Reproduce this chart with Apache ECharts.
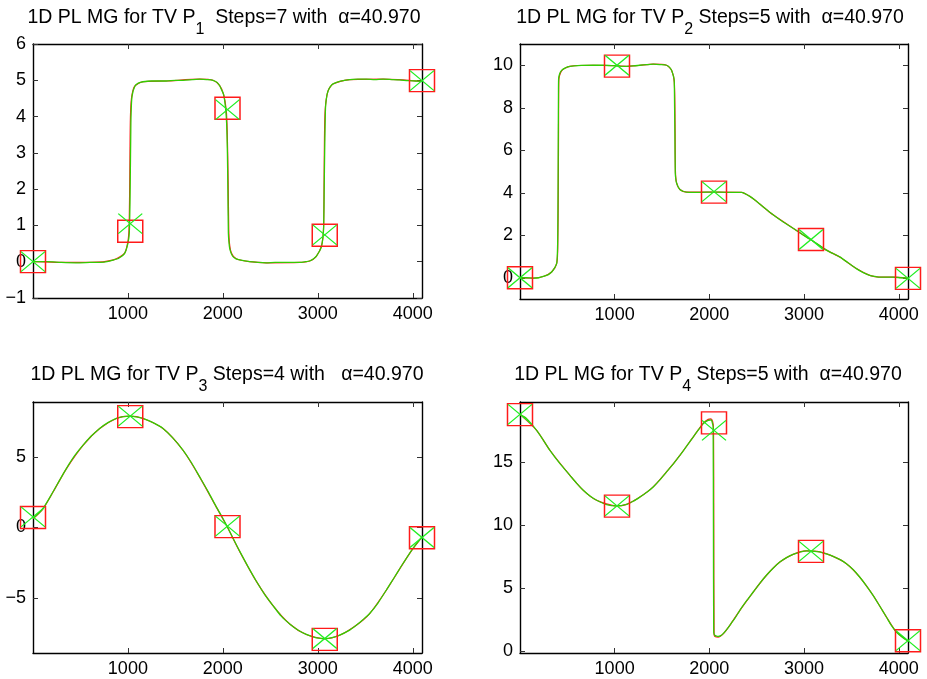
<!DOCTYPE html>
<html>
<head>
<meta charset="utf-8">
<script src="https://cdn.jsdelivr.net/npm/echarts@6/dist/echarts.min.js"></script>
<style>html,body{margin:0;padding:0;background:#fff}#c{width:927px;height:679px}</style>
</head>
<body>
<div id="c"></div>
<script>
// ---------- data ----------
const markerX = [1, 1025, 2049, 3073, 4097];
const xTicks = [1000, 2000, 3000, 4000];

const titles = [
  ['1D PL MG for TV P', '1', '  Steps=7 with  α=40.970'],
  ['1D PL MG for TV P', '2', ' Steps=5 with  α=40.970'],
  ['1D PL MG for TV P', '3', ' Steps=4 with   α=40.970'],
  ['1D PL MG for TV P', '4', ' Steps=5 with  α=40.970']
];

const yRange1 = [-1, 6];     const yTicks1 = [-1, 0, 1, 2, 3, 4, 5, 6];
const yRange2 = [-1, 11];    const yTicks2 = [0, 2, 4, 6, 8, 10];
const yRange3 = [-8.92, 8.92]; const yTicks3 = [-5, 0, 5];
const yRange4 = [-0.16, 19.76]; const yTicks4 = [0, 5, 10, 15];

const p1Squares = [0, 0.84, 4.23, 0.73, 4.99];
const p1Crosses = [0, 1.05, 4.19, 0.74, 4.99];
const p2Squares = [0, 9.96, 4.03, 1.8, -0.03];
const p2Crosses = [0, 10.0, 4.05, 1.8, -0.03];
const p3Squares = [0.71, 7.88, 0.06, -7.95, -0.73];
const p3Crosses = [0.76, 7.91, 0.09, -7.89, -0.71];
const p4Squares = [18.76, 11.49, 18.11, 7.9, 0.81];
const p4Crosses = [18.78, 11.51, 17.51, 7.91, 0.82];

const p1Green = [[1,0],[150,0.0],[300,-0.02],[450,-0.03],[600,-0.02],[750,-0.01],[850,0.05],[900,0.09],[966,0.23],[1001,0.51],[1015,0.8],[1022,1.6],[1026,2.5],[1030,3.4],[1033,4.0],[1043,4.55],[1072,4.83],[1110,4.92],[1159,4.96],[1250,4.98],[1405,4.98],[1500,5.0],[1580,5.0],[1680,5.02],[1756,5.03],[1830,5.02],[1896,5.0],[1940,4.94],[1967,4.85],[1990,4.72],[2009,4.6],[2030,4.2],[2040,3.8],[2048,3.0],[2053,2.0],[2058,0.8],[2064,0.55],[2072,0.37],[2090,0.22],[2107,0.14],[2140,0.08],[2177,0.05],[2282,0],[2370,-0.02],[2458,-0.03],[2550,-0.02],[2633,-0.02],[2720,-0.02],[2809,-0.02],[2870,0.0],[2914,0.02],[2955,0.08],[2984,0.15],[3015,0.28],[3037,0.4],[3055,0.7],[3062,1.0],[3067,2.0],[3072,3.0],[3077,3.8],[3082,4.3],[3095,4.58],[3107,4.7],[3130,4.82],[3160,4.9],[3230,4.97],[3336,5.02],[3420,5.03],[3511,5.03],[3600,5.02],[3687,5.03],[3780,5.02],[3862,5.01],[3950,4.99],[4030,4.98],[4097,4.97]];
const p1Red = [[1,0],[300,-0.02],[600,-0.02],[850,0.05],[966,0.24],[1000,0.55],[1012,0.9],[1018,1.8],[1022,3.0],[1027,4.0],[1038,4.5],[1070,4.83],[1159,4.96],[1405,4.98],[1756,5.03],[1896,5.0],[1967,4.85],[2009,4.6],[2035,4.2],[2046,3.6],[2056,2.2],[2062,0.9],[2070,0.5],[2090,0.24],[2140,0.08],[2282,0],[2458,-0.03],[2809,-0.02],[2914,0.02],[2984,0.15],[3040,0.45],[3060,0.9],[3066,2.2],[3070,3.4],[3078,4.2],[3107,4.7],[3160,4.9],[3336,5.02],[3687,5.03],[4097,4.97]];

const p2Green = [[1,0],[70,0.0],[142,-0.02],[200,0.0],[247,0.06],[300,0.15],[335,0.27],[365,0.45],[388,0.66],[396,1.2],[400,2.1],[403,4.5],[405,6.8],[407,8.6],[409,9.37],[420,9.6],[440,9.76],[480,9.88],[528,9.95],[650,9.99],[774,10],[880,10.0],[985,9.98],[1060,9.96],[1126,9.95],[1200,9.97],[1267,10],[1340,10.03],[1407,10.05],[1480,10.03],[1548,10],[1580,9.9],[1601,9.76],[1620,9.5],[1629,9.29],[1633,8],[1636,6.84],[1640,4.94],[1647,4.6],[1654,4.46],[1670,4.28],[1689,4.15],[1720,4.07],[1759,4.03],[1830,4.02],[1900,4.02],[2040,4.03],[2181,4.02],[2260,4.02],[2339,4.02],[2380,3.95],[2427,3.83],[2480,3.66],[2532,3.47],[2600,3.22],[2673,2.96],[2780,2.62],[2884,2.33],[2970,2.07],[3060,1.82],[3150,1.56],[3236,1.3],[3310,1.13],[3376,0.98],[3460,0.72],[3552,0.43],[3620,0.25],[3693,0.11],[3750,0.06],[3798,0.03],[3870,0.03],[3939,0.03],[4020,0.0],[4097,-0.02]];
const p2Red = [[1,0],[142,-0.02],[247,0.06],[335,0.27],[390,0.7],[400,1.6],[405,4.0],[408,7.0],[411,9.3],[440,9.74],[528,9.95],[774,10],[985,9.98],[1126,9.95],[1267,10],[1407,10.05],[1548,10],[1601,9.76],[1630,9.2],[1638,7.2],[1642,5.0],[1654,4.46],[1689,4.15],[1759,4.03],[2339,4.02],[2427,3.83],[2532,3.47],[2673,2.96],[2884,2.33],[3060,1.82],[3236,1.3],[3376,0.98],[3552,0.43],[3693,0.11],[3798,0.03],[3939,0.03],[4097,-0.02]];

const p3Green = [[1,0.64],[106,1.35],[212,2.54],[280,3.35],[352,4.19],[440,5.1],[528,5.85],[615,6.5],[703,7.04],[790,7.45],[879,7.75],[950,7.88],[1019,7.91],[1090,7.86],[1159,7.75],[1265,7.45],[1370,7.04],[1475,6.35],[1580,5.5],[1670,4.6],[1756,3.6],[1845,2.55],[1931,1.47],[1990,0.78],[2047,0.05],[2110,-0.8],[2177,-1.68],[2265,-2.78],[2353,-3.82],[2440,-4.75],[2528,-5.55],[2615,-6.3],[2704,-6.85],[2790,-7.28],[2879,-7.6],[2975,-7.82],[3072,-7.9],[3150,-7.83],[3230,-7.65],[3320,-7.35],[3405,-6.94],[3475,-6.55],[3546,-6.11],[3635,-5.35],[3721,-4.45],[3810,-3.5],[3897,-2.56],[4000,-1.5],[4097,-0.66]];
const p3Red = [[1,0.62],[106,1.33],[212,2.52],[352,4.17],[528,5.84],[703,7.03],[879,7.75],[1019,7.91],[1159,7.75],[1370,7.03],[1580,5.49],[1756,3.58],[1931,1.45],[2047,0.03],[2177,-1.7],[2353,-3.83],[2528,-5.56],[2704,-6.86],[2879,-7.61],[3072,-7.91],[3230,-7.66],[3405,-6.95],[3546,-6.12],[3721,-4.46],[3897,-2.57],[4000,-1.52],[4097,-0.68]];

const p4Green = [[1,18.78],[71,18.44],[177,17.51],[250,16.7],[317,15.93],[423,14.87],[528,13.94],[600,13.3],[669,12.75],[740,12.3],[810,11.96],[915,11.61],[1021,11.51],[1126,11.64],[1200,11.9],[1267,12.22],[1340,12.6],[1407,13.02],[1480,13.6],[1548,14.21],[1620,14.85],[1689,15.53],[1760,16.25],[1829,16.98],[1890,17.6],[1935,18.04],[1965,18.22],[1988,18.31],[2010,18.33],[2023,18.31],[2035,18.0],[2040,17.8],[2043,10],[2046,1.5],[2052,1.3],[2058,1.24],[2075,1.18],[2093,1.16],[2120,1.22],[2146,1.38],[2180,1.68],[2216,2.04],[2270,2.6],[2322,3.23],[2390,3.95],[2463,4.68],[2530,5.35],[2603,6.01],[2670,6.55],[2744,7.06],[2810,7.39],[2884,7.67],[2950,7.83],[3025,7.94],[3090,7.93],[3166,7.86],[3236,7.7],[3306,7.51],[3380,7.25],[3447,6.93],[3520,6.45],[3587,5.87],[3660,5.15],[3728,4.42],[3800,3.55],[3869,2.7],[3920,2.05],[3974,1.51],[4040,1.08],[4097,0.8]];
const p4Red = [[1,18.78],[177,17.51],[317,15.93],[528,13.94],[669,12.75],[810,11.96],[1021,11.51],[1126,11.64],[1267,12.22],[1407,13.02],[1548,14.21],[1689,15.53],[1829,16.98],[1935,18.06],[1988,18.38],[2015,18.42],[2035,18.2],[2044,17.6],[2047,10],[2050,1.3],[2058,1.15],[2093,1.1],[2146,1.36],[2216,2.04],[2322,3.23],[2463,4.68],[2603,6.01],[2744,7.06],[2884,7.67],[3025,7.94],[3166,7.86],[3306,7.51],[3447,6.93],[3587,5.87],[3728,4.42],[3869,2.7],[3974,1.51],[4097,0.8]];

// ---------- layout ----------
const grids = [
  {left: 33, top: 44, width: 389, height: 254},
  {left: 520, top: 44, width: 388, height: 255},
  {left: 33, top: 402, width: 389, height: 251},
  {left: 520, top: 402, width: 388, height: 251}
];
const titlePos = [[224, 18], [710, 18], [227, 375], [708, 375]];

const panels = [
  {range: yRange1, ticks: yTicks1, green: p1Green, red: p1Red, sq: p1Squares, cr: p1Crosses},
  {range: yRange2, ticks: yTicks2, green: p2Green, red: p2Red, sq: p2Squares, cr: p2Crosses},
  {range: yRange3, ticks: yTicks3, green: p3Green, red: p3Red, sq: p3Squares, cr: p3Crosses},
  {range: yRange4, ticks: yTicks4, green: p4Green, red: p4Red, sq: p4Squares, cr: p4Crosses}
];

const FONT = 'Liberation Sans';
const lab = {color: '#000', fontSize: 18, fontFamily: FONT,
  formatter: v => String(v).replace('-', '\u2212')};
const line = {show: true, onZero: false, lineStyle: {color: '#000', width: 1.4}};
const tick = vals => ({inside: true, length: 5, customValues: vals, lineStyle: {color: '#333'}});

const xAxis = [], yAxis = [], series = [], graphic = [];
panels.forEach((p, i) => {
  xAxis.push({type: 'value', gridIndex: i, min: 1, max: 4097, position: 'bottom',
    axisLine: line, splitLine: {show: false}, axisTick: tick(xTicks),
    axisLabel: Object.assign({margin: 7, customValues: xTicks}, lab)});
  xAxis.push({type: 'value', gridIndex: i, min: 1, max: 4097, position: 'top',
    axisLine: line, splitLine: {show: false}, axisTick: tick(xTicks),
    axisLabel: {show: false}});
  yAxis.push({type: 'value', gridIndex: i, min: p.range[0], max: p.range[1], position: 'left',
    axisLine: line, splitLine: {show: false}, axisTick: tick(p.ticks),
    axisLabel: Object.assign({margin: 7, customValues: p.ticks}, lab)});
  yAxis.push({type: 'value', gridIndex: i, min: p.range[0], max: p.range[1], position: 'right',
    axisLine: line, splitLine: {show: false}, axisTick: tick(p.ticks),
    axisLabel: {show: false}});
  const xi = 2 * i, yi = 2 * i;
  series.push({type: 'line', xAxisIndex: xi, yAxisIndex: yi, data: p.red, showSymbol: false,
    smooth: 0.25, lineStyle: {color: '#ff2020', width: 1.2}, z: 2});
  series.push({type: 'line', xAxisIndex: xi, yAxisIndex: yi, data: p.green, showSymbol: false,
    smooth: 0.25, lineStyle: {color: '#33cc00', width: 1.3}, z: 3});
  series.push({type: 'scatter', xAxisIndex: xi, yAxisIndex: yi,
    data: markerX.map((x, k) => [x, p.sq[k]]), symbol: 'rect', symbolSize: [25, 22],
    itemStyle: {color: 'rgba(0,0,0,0)', borderColor: '#ff1a1a', borderWidth: 1.4, opacity: 1}, z: 4});
  series.push({type: 'scatter', xAxisIndex: xi, yAxisIndex: yi,
    data: markerX.map((x, k) => [x, p.cr[k]]), symbol: 'path://M0,0L24,20M24,0L0,20', symbolSize: [24, 20],
    itemStyle: {color: 'rgba(0,0,0,0)', borderColor: '#22ee22', borderWidth: 1.2, opacity: 1}, z: 5});
  const t = titles[i];
  graphic.push({type: 'text', x: titlePos[i][0], y: titlePos[i][1], z: 10,
    style: {text: t[0] + '{s|' + t[1] + '}' + t[2], align: 'center', verticalAlign: 'middle',
      fontSize: 19.5, fontFamily: FONT, fill: '#000',
      rich: {s: {fontSize: 16, fontFamily: FONT, fill: '#000', padding: [24, 0, 0, 0]}}}});
});

const chart = echarts.init(document.getElementById('c'), null, {renderer: 'canvas'});
chart.setOption({
  animation: false,
  backgroundColor: '#fff',
  grid: grids,
  xAxis, yAxis, series, graphic
});
</script>
</body>
</html>
